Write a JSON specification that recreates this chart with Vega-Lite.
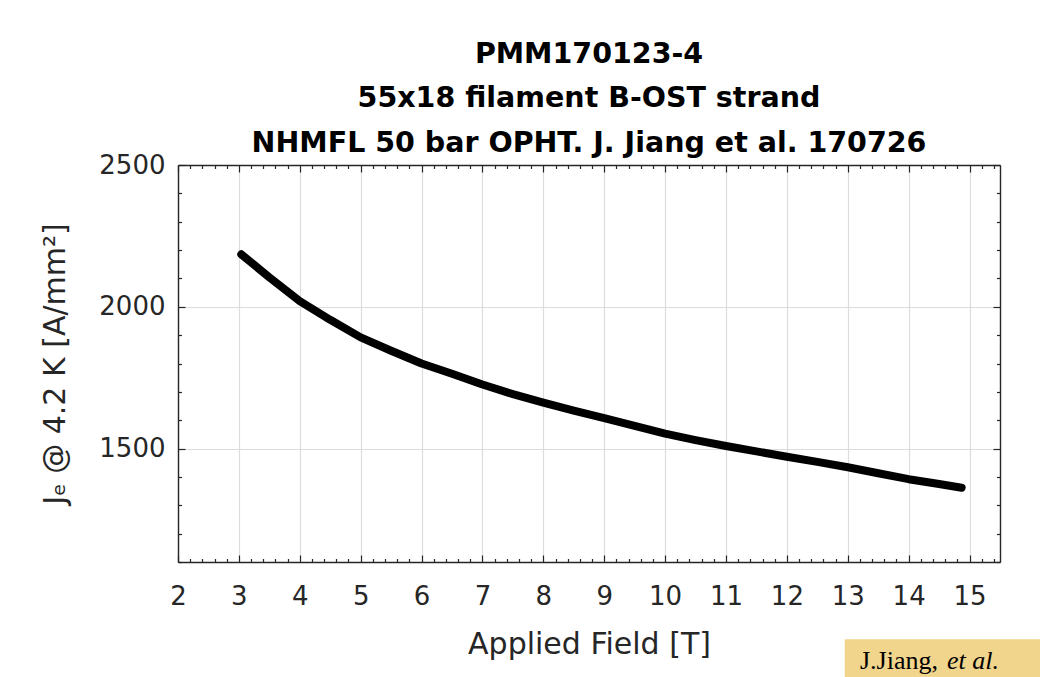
{
  "$schema": "https://vega.github.io/schema/vega-lite/v6.json",
  "width": 822,
  "height": 397,
  "autosize": {"type": "none"},
  "padding": {"left": 178, "top": 165, "right": 40, "bottom": 115},
  "background": "white",
  "title": {
    "text": ["PMM170123-4", "55x18 filament B-OST strand", "NHMFL 50 bar OPHT. J. Jiang et al. 170726"],
    "font": "DejaVu Sans",
    "fontSize": 28.5,
    "fontWeight": "bold",
    "color": "#000000",
    "lineHeight": 44.5,
    "offset": -5,
    "anchor": "middle",
    "frame": "group"
  },
  "config": {
    "view": {"stroke": null},
    "axis": {
      "domainColor": "#262626",
      "domainWidth": 1.4,
      "tickColor": "#262626",
      "tickWidth": 1.2,
      "labelFont": "DejaVu Sans",
      "labelFontSize": 26,
      "labelColor": "#262626",
      "labelFlush": false,
      "titleFont": "DejaVu Sans",
      "titleFontSize": 30,
      "titleFontWeight": "normal",
      "titleColor": "#262626",
      "gridColor": "#dcdcdc",
      "gridWidth": 1.2,
      "labelOverlap": false
    }
  },
  "data": {
    "values": [
      {"field": 3.04, "je": 2185},
      {"field": 3.5, "je": 2104},
      {"field": 4, "je": 2020},
      {"field": 4.5, "je": 1954},
      {"field": 5, "je": 1892},
      {"field": 5.5, "je": 1845},
      {"field": 6, "je": 1800},
      {"field": 6.5, "je": 1764},
      {"field": 7, "je": 1726},
      {"field": 7.5, "je": 1692},
      {"field": 8, "je": 1662},
      {"field": 8.5, "je": 1634},
      {"field": 9, "je": 1607},
      {"field": 9.5, "je": 1580},
      {"field": 10, "je": 1553},
      {"field": 10.5, "je": 1530},
      {"field": 11, "je": 1509},
      {"field": 11.5, "je": 1490},
      {"field": 12, "je": 1471},
      {"field": 12.5, "je": 1453},
      {"field": 13, "je": 1434},
      {"field": 13.5, "je": 1413},
      {"field": 14, "je": 1392},
      {"field": 14.5, "je": 1375},
      {"field": 14.87, "je": 1362}
    ]
  },
  "layer": [
    {
      "mark": {"type": "line", "color": "#000000", "strokeWidth": 8, "strokeCap": "round", "strokeJoin": "round"},
      "encoding": {
        "x": {
          "field": "field", "type": "quantitative",
          "scale": {"domain": [2, 15.5], "nice": false, "zero": false},
          "axis": {
            "orient": "bottom",
            "title": "Applied Field [T]",
            "titlePadding": 17,
            "values": [2,2.2,2.4,2.6,2.8,3,3.2,3.4,3.6,3.8,4,4.2,4.4,4.6,4.8,5,5.2,5.4,5.6,5.8,6,6.2,6.4,6.6,6.8,7,7.2,7.4,7.6,7.8,8,8.2,8.4,8.6,8.8,9,9.2,9.4,9.6,9.8,10,10.2,10.4,10.6,10.8,11,11.2,11.4,11.6,11.8,12,12.2,12.4,12.6,12.8,13,13.2,13.4,13.6,13.8,14,14.2,14.4,14.6,14.8,15,15.2,15.4],
            "labelExpr": "datum.value % 1 === 0 ? format(datum.value, 'd') : ''",
            "labelPadding": 28,
            "tickSize": {"condition": {"test": "datum.value % 1 === 0", "value": -7}, "value": -3.5},
            "grid": true,
            "gridOpacity": {"condition": {"test": "datum.value % 1 === 0", "value": 1}, "value": 0}
          }
        },
        "y": {
          "field": "je", "type": "quantitative",
          "scale": {"domain": [1100, 2500], "nice": false, "zero": false},
          "axis": {
            "orient": "left",
            "title": "Jₑ @ 4.2 K [A/mm²]",
            "titlePadding": 28,
            "values": [1100,1200,1300,1400,1500,1600,1700,1800,1900,2000,2100,2200,2300,2400,2500],
            "labelExpr": "datum.value % 500 === 0 ? format(datum.value, 'd') : ''",
            "labelPadding": 20,
            "tickSize": {"condition": {"test": "datum.value % 500 === 0", "value": -7}, "value": -3.5},
            "grid": true,
            "gridOpacity": {"condition": {"test": "datum.value % 500 === 0", "value": 1}, "value": 0}
          }
        }
      }
    },
    {
      "mark": {"type": "point", "opacity": 0},
      "encoding": {
        "x": {
          "field": "field", "type": "quantitative",
          "scale": {"domain": [2, 15.5], "nice": false, "zero": false},
          "axis": {
            "orient": "top",
            "title": null,
            "labels": false,
            "grid": false,
            "values": [2,2.2,2.4,2.6,2.8,3,3.2,3.4,3.6,3.8,4,4.2,4.4,4.6,4.8,5,5.2,5.4,5.6,5.8,6,6.2,6.4,6.6,6.8,7,7.2,7.4,7.6,7.8,8,8.2,8.4,8.6,8.8,9,9.2,9.4,9.6,9.8,10,10.2,10.4,10.6,10.8,11,11.2,11.4,11.6,11.8,12,12.2,12.4,12.6,12.8,13,13.2,13.4,13.6,13.8,14,14.2,14.4,14.6,14.8,15,15.2,15.4],
            "tickSize": {"condition": {"test": "datum.value % 1 === 0", "value": -7}, "value": -3.5}
          }
        },
        "y": {
          "field": "je", "type": "quantitative",
          "scale": {"domain": [1100, 2500], "nice": false, "zero": false},
          "axis": {
            "orient": "right",
            "title": null,
            "labels": false,
            "grid": false,
            "values": [1100,1200,1300,1400,1500,1600,1700,1800,1900,2000,2100,2200,2300,2400,2500],
            "tickSize": {"condition": {"test": "datum.value % 500 === 0", "value": -7}, "value": -3.5}
          }
        }
      }
    },
    {
      "data": {"values": [{}]},
      "mark": {"type": "rect", "fill": "#f1d58c", "clip": false},
      "encoding": {
        "x": {"datum": 12.95, "type": "quantitative", "scale": {"domain": [2, 15.5], "nice": false, "zero": false}, "axis": null},
        "x2": {"datum": 16.5},
        "y": {"datum": 828, "type": "quantitative", "scale": {"domain": [1100, 2500], "nice": false, "zero": false}, "axis": null},
        "y2": {"datum": 650}
      }
    },
    {
      "data": {"values": [{}]},
      "mark": {"type": "text", "font": "Liberation Serif", "fontSize": 26, "color": "#000000", "align": "left", "baseline": "alphabetic", "clip": false},
      "encoding": {
        "x": {"datum": 13.2, "type": "quantitative", "scale": {"domain": [2, 15.5], "nice": false, "zero": false}, "axis": null},
        "y": {"datum": 724, "type": "quantitative", "scale": {"domain": [1100, 2500], "nice": false, "zero": false}, "axis": null},
        "text": {"value": "J.Jiang,"}
      }
    },
    {
      "data": {"values": [{}]},
      "mark": {"type": "text", "font": "Liberation Serif", "fontSize": 26, "fontStyle": "italic", "color": "#000000", "align": "left", "baseline": "alphabetic", "clip": false},
      "encoding": {
        "x": {"datum": 14.63, "type": "quantitative", "scale": {"domain": [2, 15.5], "nice": false, "zero": false}, "axis": null},
        "y": {"datum": 724, "type": "quantitative", "scale": {"domain": [1100, 2500], "nice": false, "zero": false}, "axis": null},
        "text": {"value": "et al."}
      }
    }
  ],
  "resolve": {"axis": {"x": "independent", "y": "independent"}}
}
